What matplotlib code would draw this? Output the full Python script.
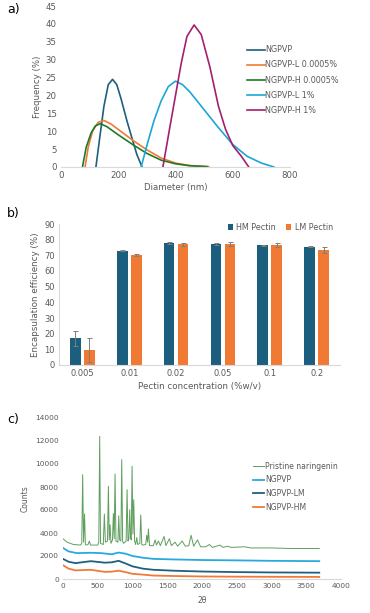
import numpy as np
import matplotlib
matplotlib.use("Agg")
from matplotlib import pyplot as plt

#   panel a) size distributions (diameter nm, frequency %)
ngpvp_x = [122, 135, 150, 165, 180, 195, 210, 230, 250, 265, 283]
ngpvp_y = [0, 8, 17, 23, 24.5, 23, 19, 13, 7.5, 3.5, 0]
ngpvp_l_x = [84, 95, 110, 130, 150, 175, 200, 250, 300, 350, 400, 450, 516]
ngpvp_l_y = [0, 5.5, 10, 12.5, 13, 12, 10.5, 7.5, 4.8, 2.5, 1.1, 0.4, 0.1]
ngpvp_h_x = [75, 88, 105, 120, 137, 160, 200, 250, 300, 350, 400, 450, 510]
ngpvp_h_y = [0, 5.5, 9.5, 11.5, 12.1, 11.3, 9, 6.3, 3.8, 1.9, 0.9, 0.35, 0.1]
ngpvp_l1_x = [280, 300, 325, 350, 375, 400, 425, 450, 500, 550, 600, 650, 700, 744]
ngpvp_l1_y = [0, 6, 13, 18.5, 22.5, 24, 23, 21, 16, 11, 6.3, 3, 1.1, 0]
ngpvp_h1_x = [356, 380, 400, 420, 440, 465, 490, 520, 550, 575, 600, 630, 656]
ngpvp_h1_y = [0, 11, 20, 29, 36.5, 39.7, 37, 28, 17, 10.5, 6, 3, 0]

#   panel b) encapsulation efficiency
conc_labels = ['0.005', '0.01', '0.02', '0.05', '0.1', '0.2']
hm_ee = [17, 73, 78, 77.2, 76.3, 75.4]
hm_err = [5, 0.4, 0.8, 0.4, 0.5, 0.3]
lm_ee = [9.5, 70.2, 77, 77, 76.6, 73.6]
lm_err = [7.5, 0.8, 0.9, 1.2, 1.3, 1.9]

#   panel c) XRD patterns (2theta, counts)
nar_x = [0, 60, 150, 250, 270, 283, 296, 310, 322, 335, 360, 379, 395, 500, 515, 528, 540, 580, 595, 610,
         640, 653, 665, 677, 690, 712, 725, 737, 749, 762, 790, 802, 815, 833, 845, 858, 870, 908, 922, 935,
         948, 960, 972, 982, 994, 1006, 1018, 1030, 1045, 1061, 1075, 1105, 1119, 1133, 1150, 1190, 1205,
         1218, 1229, 1245, 1300, 1325, 1345, 1373, 1400, 1455, 1480, 1531, 1560, 1613, 1650, 1714, 1760,
         1810, 1843, 1880, 1935, 1980, 2050, 2107, 2150, 2260, 2300, 2367, 2420, 2621, 2700, 3000, 3300, 3687]
nar_y = [3500, 3200, 3000, 2950, 3100, 9070, 3200, 5650, 3000, 2950, 3000, 3300, 2950, 2950, 3200, 12400, 3100, 3000, 5650, 3200,
         3300, 8060, 3400, 4720, 3100, 3400, 5700, 3500, 9130, 3300, 3200, 5500, 3400, 3300, 10380, 3300, 3100, 3300, 7770, 3300,
         3500, 6030, 3600, 3400, 9800, 3900, 6900, 3300, 3000, 3600, 3000, 3100, 5560, 3000, 2950, 3000, 3800,
         3200, 4350, 2900, 2900, 3400, 2950, 3300, 2900, 3700, 2900, 3500, 2900, 3200, 2850, 3300, 2850,
         2900, 3800, 2850, 3400, 2800, 2800, 3000, 2750, 2950, 2750, 2850, 2750, 2800, 2700, 2700, 2650, 2650]
ngpvp_c_x = [0, 80, 200, 400, 550, 700, 800, 900, 1000, 1150, 1300, 1600, 2000, 2500, 3000, 3687]
ngpvp_c_y = [2700, 2400, 2250, 2280, 2250, 2150, 2300, 2200, 2000, 1850, 1750, 1700, 1650, 1620, 1580, 1550]
lm_c_x = [0, 80, 180, 400, 600, 700, 800, 900, 1000, 1150, 1300, 1600, 2000, 2500, 3000, 3687]
lm_c_y = [1750, 1500, 1380, 1550, 1420, 1450, 1580, 1350, 1100, 900, 800, 720, 650, 600, 570, 550]
hm_c_x = [0, 80, 180, 400, 600, 700, 800, 900, 1000, 1150, 1300, 1600, 2000, 2500, 3000, 3687]
hm_c_y = [1200, 900, 750, 800, 620, 640, 720, 600, 450, 380, 300, 260, 220, 200, 190, 180]

W, H = 370, 613
grey = '#595959'
spine_grey = '#d9d9d9'

plt.rcParams['font.family'] = ['DejaVu Sans']
fig = plt.figure(figsize=(W / 100, H / 100), dpi=100)


def px_axes(left, top, right, bottom):
    return fig.add_axes([left / W, 1 - bottom / H, (right - left) / W, (bottom - top) / H])


def style(ax, size):
    for s in ['top', 'right', 'left']:
        ax.spines[s].set_visible(False)
    ax.spines['bottom'].set_color(spine_grey)
    ax.tick_params(length=0, labelsize=size, colors=grey, pad=3)


#   a) size distribution
ax1 = px_axes(61, 6, 290, 167)
ax1.plot(ngpvp_x, ngpvp_y, color='#1f5f7f', lw=1.2, label='NGPVP')
ax1.plot(ngpvp_l_x, ngpvp_l_y, color='#f07a33', lw=1.2, label='NGPVP-L 0.0005%')
ax1.plot(ngpvp_h_x, ngpvp_h_y, color='#1d7a2a', lw=1.2, label='NGPVP-H 0.0005%')
ax1.plot(ngpvp_l1_x, ngpvp_l1_y, color='#1aa7d8', lw=1.2, label='NGPVP-L 1%')
ax1.plot(ngpvp_h1_x, ngpvp_h1_y, color='#a3206f', lw=1.2, label='NGPVP-H 1%')
ax1.set_xlim(0, 800)
ax1.set_ylim(0, 45)
ax1.set_xticks([0, 200, 400, 600, 800])
ax1.set_yticks(range(0, 46, 5))
style(ax1, 6.2)
ax1.set_xlabel('Diameter (nm)', fontsize=6.2, color=grey, labelpad=2)
ax1.set_ylabel('Frequency (%)', fontsize=6.2, color=grey, labelpad=3)
ax1.legend(loc='upper left', bbox_to_anchor=(0.78, 0.8), frameon=False, fontsize=5.8,
           handlelength=2.2, handletextpad=0.1, labelspacing=0.75, labelcolor=grey)

#   b) encapsulation efficiency
ax2 = px_axes(59, 224, 340, 365)
pos = np.arange(len(conc_labels))
ekw = dict(ecolor='#7f7f7f', elinewidth=0.7, capsize=1.8, capthick=0.7)
ax2.bar(pos - 0.15, hm_ee, 0.23, yerr=hm_err, color='#1b5e7e', label='HM Pectin', error_kw=ekw)
ax2.bar(pos + 0.15, lm_ee, 0.23, yerr=lm_err, color='#f07a33', label='LM Pectin', error_kw=ekw)
ax2.set_xlim(-0.5, 5.5)
ax2.set_ylim(0, 90)
ax2.set_yticks(range(0, 91, 10))
ax2.set_xticks(pos)
ax2.set_xticklabels(conc_labels)
style(ax2, 6)
ax2.spines['left'].set_visible(True)
ax2.spines['left'].set_color(spine_grey)
ax2.set_xlabel('Pectin concentration (%w/v)', fontsize=6.3, color=grey, labelpad=3)
ax2.set_ylabel('Encapsulation efficiency (%)', fontsize=6.3, color=grey, labelpad=3)
ax2.legend(loc='upper right', bbox_to_anchor=(1.0, 1.06), ncol=2, frameon=False, fontsize=5.8,
           handlelength=0.7, handleheight=0.7, handletextpad=0.4, columnspacing=1.2, labelcolor=grey)

#   c) XRD
ax3 = px_axes(63, 418, 341, 579)
ax3.plot(nar_x, nar_y, color='#5e9e5e', lw=0.7, label='Pristine naringenin')
ax3.plot(ngpvp_c_x, ngpvp_c_y, color='#29a9e0', lw=1.3, label='NGPVP')
ax3.plot(lm_c_x, lm_c_y, color='#1f5f80', lw=1.3, label='NGPVP-LM')
ax3.plot(hm_c_x, hm_c_y, color='#f07a3a', lw=1.3, label='NGPVP-HM')
ax3.set_xlim(0, 4000)
ax3.set_ylim(0, 14000)
ax3.set_xticks(range(0, 4001, 500))
ax3.set_yticks(range(0, 14001, 2000))
style(ax3, 5.3)
ax3.set_xlabel('2θ', fontsize=5.5, color=grey, labelpad=5)
ax3.set_ylabel('Counts', fontsize=5.5, color=grey, labelpad=4)
ax3.legend(loc='upper left', bbox_to_anchor=(0.66, 0.77), frameon=False, fontsize=5.5,
           handlelength=1.4, handletextpad=0.1, labelspacing=0.6, labelcolor=grey)

#   panel letters
for lbl, yy in [('a)', 9), ('b)', 213), ('c)', 420)]:
    fig.text(7 / W, 1 - yy / H, lbl, fontsize=9, va='center', ha='left')

plt.savefig('out.png', dpi=100)
